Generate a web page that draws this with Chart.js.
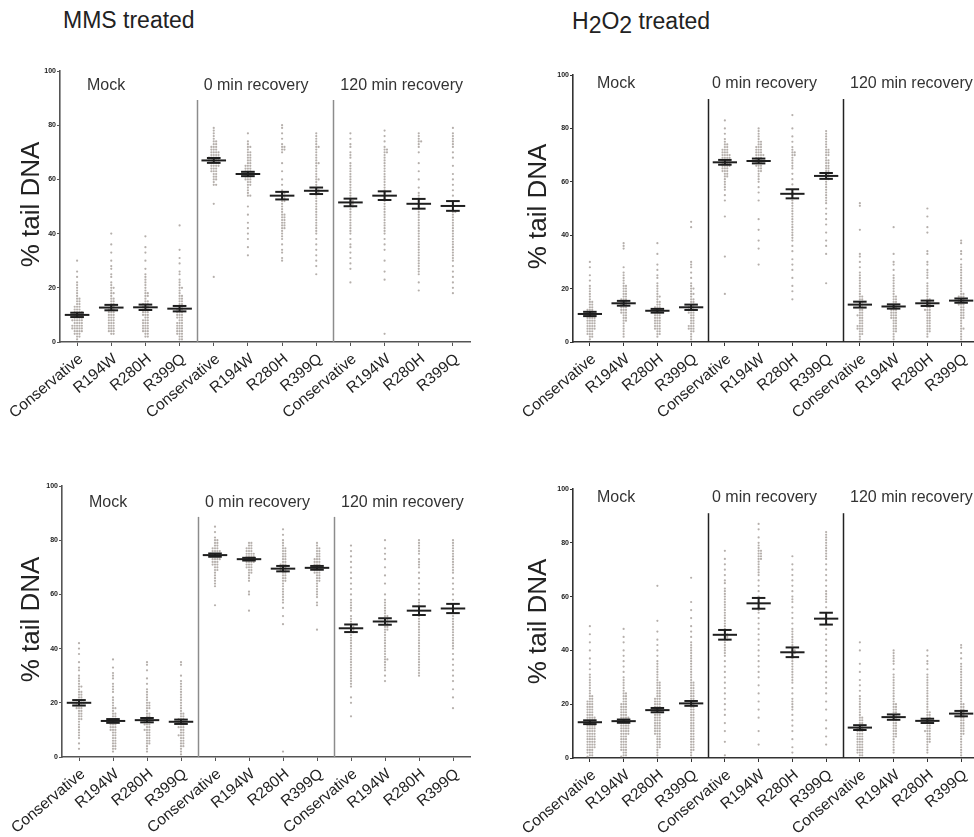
<!DOCTYPE html>
<html>
<head>
<meta charset="utf-8">
<script src="https://cdn.jsdelivr.net/npm/chart.js@4.4.1/dist/chart.umd.min.js"></script>
<style>
  body { margin: 0; background: #fff; width: 974px; height: 837px; overflow: hidden; position: relative;
         font-family: "Liberation Sans", Arial, sans-serif; }
  .title { position: absolute; font-size: 23px; line-height: 23px; color: #222; white-space: nowrap; }
  .title .lo { position: relative; top: 4px; }
  .panel { position: absolute; }
</style>
</head>
<body>
<div class="title" style="left:63px;top:9px">MMS treated</div>
<div class="title" style="left:572px;top:10px">H<span class="lo">2</span>O<span class="lo">2</span> treated</div>
<div class="panel" id="pa"><canvas id="ca"></canvas></div>
<div class="panel" id="pb"><canvas id="cb"></canvas></div>
<div class="panel" id="pc"><canvas id="cc"></canvas></div>
<div class="panel" id="pd"><canvas id="cd"></canvas></div>
<script>
// categories (same in every panel)
const variants = ["Conservative", "R194W", "R280H", "R399Q"];
const categories = [...variants, ...variants, ...variants];
const groupNames = ["Mock", "0 min recovery", "120 min recovery"];
const yTicks = [0, 20, 40, 60, 80, 100];

// MMS treated, upper panel: % tail DNA per cell, order = categories
const mmsTopValues = [
  [30,26,24,22,21,20,19,18,17,16,16,15,15,14,14,13,13,13,12,12,12,11,11,11,11,10,10,10,10,9,9,9,9,8,8,8,8,8,7,7,7,7,6,6,6,6,6,5,5,5,5,5,4,4,4,4,3,3,3,2,2,1],
  [40,36,33,30,28,27,25,24,22,21,20,20,19,18,18,17,16,16,15,15,14,14,13,13,12,12,12,11,11,11,10,10,10,9,9,9,8,8,8,7,7,7,6,6,6,5,5,5,4,4,4,3,3],
  [39,35,33,30,27,25,24,23,22,21,20,19,18,18,17,17,16,15,15,14,14,14,13,13,13,12,12,12,11,11,11,10,10,10,9,9,8,8,8,7,7,7,6,6,6,5,5,5,4,4,4,3,3,2,2],
  [43,34,31,29,26,25,23,22,21,20,20,19,18,17,17,16,16,15,15,14,14,13,13,12,12,12,11,11,11,10,10,10,9,9,9,8,8,7,7,7,6,6,6,5,5,5,4,4,4,3,3,3,2,2,1,1],
  [79,78,77,76,75,74,74,73,73,72,72,72,71,71,71,70,70,70,70,69,69,69,69,68,68,68,68,68,67,67,67,67,67,66,66,66,66,65,65,65,65,64,64,64,63,63,63,62,62,61,61,60,60,59,58,58,51,24],
  [77,74,73,72,72,71,70,70,69,69,68,68,67,67,66,66,65,65,65,64,64,64,63,63,63,62,62,62,62,61,61,61,60,60,60,59,59,58,58,57,56,55,54,54,50,47,44,42,40,38,35,32],
  [80,79,77,75,73,72,72,71,71,70,66,63,60,58,56,55,55,54,54,53,53,52,52,51,50,49,48,47,47,46,46,45,45,44,44,43,43,42,42,41,40,39,38,36,34,33,31,30],
  [77,76,75,74,73,72,72,71,70,69,68,67,66,66,65,64,63,62,61,60,60,59,58,57,56,56,55,55,54,53,52,51,50,49,48,47,46,45,44,43,42,41,40,38,36,34,32,30,28,25],
  [77,75,73,72,70,69,68,66,65,64,63,62,61,60,59,58,57,56,55,54,53,52,52,51,51,50,50,49,48,47,46,45,44,43,42,41,40,38,36,35,33,31,29,27,22],
  [78,76,74,72,71,71,70,70,69,68,67,66,65,64,63,62,61,60,59,58,57,56,55,54,53,52,51,50,49,48,47,46,45,44,43,42,41,40,38,36,34,30,26,23,3],
  [77,76,75,74,74,73,72,70,66,63,60,57,55,54,53,52,51,50,49,48,47,46,45,44,43,42,41,40,39,38,37,36,35,34,33,32,31,30,29,28,27,26,25,22,19],
  [79,77,76,75,74,73,72,70,68,65,62,60,58,56,54,52,51,50,49,48,48,47,46,45,44,43,42,41,40,39,38,37,36,35,34,33,32,31,30,28,26,24,22,20,18]
];
const mmsTopMean = [10, 12.7, 12.8, 12.3, 67, 62, 54, 55.8, 51.5, 54, 51, 50.2];
const mmsTopSem = [0.8, 1.0, 1.0, 1.0, 0.9, 0.8, 1.4, 1.2, 1.4, 1.6, 1.8, 1.8];

// H2O2 treated, upper panel
const h2o2TopValues = [
  [30,28,25,23,21,20,19,18,17,16,15,15,14,14,13,13,12,12,12,11,11,11,10,10,10,10,9,9,9,9,8,8,8,8,7,7,7,7,6,6,6,6,5,5,5,5,4,4,4,3,3,3,2,2,1],
  [37,36,35,28,26,25,24,23,22,21,21,20,20,19,19,18,18,17,17,16,16,16,15,15,15,14,14,14,13,13,13,12,12,12,11,11,11,10,10,9,9,8,8,7,6,5,4,3,2],
  [37,33,29,27,25,24,22,21,20,19,18,17,17,16,15,15,14,14,13,13,13,12,12,12,11,11,11,10,10,10,9,9,9,8,8,8,7,7,7,6,6,6,5,5,5,4,4,3,3,2],
  [45,43,30,29,28,26,24,22,21,20,20,19,18,18,17,16,16,15,15,14,14,13,13,13,12,12,12,11,11,11,10,10,9,9,8,8,7,7,6,6,6,5,5,5,4,4,3,2,1],
  [83,80,78,76,75,74,74,73,73,72,72,72,71,71,71,70,70,70,70,69,69,69,69,68,68,68,68,67,67,67,67,66,66,66,66,65,65,65,64,64,64,63,63,62,62,61,60,59,58,57,55,53,47,32,18],
  [80,79,78,77,76,75,75,74,74,73,73,73,72,72,72,71,71,71,70,70,70,70,69,69,69,68,68,68,67,67,67,66,66,66,65,65,64,64,63,62,61,60,58,56,53,46,42,38,35,29],
  [85,80,77,75,73,72,71,71,70,70,69,68,67,66,65,63,61,59,57,56,55,54,53,52,51,50,49,48,47,46,45,44,43,42,41,40,39,38,36,34,31,29,27,24,21,19,16],
  [79,78,77,76,75,74,73,72,72,71,71,70,70,69,68,68,67,67,66,66,65,65,64,64,63,63,62,62,61,61,60,59,58,57,56,55,54,53,52,50,48,46,44,41,38,36,33,22],
  [52,51,42,33,32,30,28,26,25,24,23,22,21,20,19,18,17,17,16,16,15,15,14,14,13,13,12,12,11,11,10,10,10,9,9,8,8,7,7,6,6,6,5,5,5,4,4,3,3,2,1],
  [43,33,30,29,27,25,24,23,22,21,20,19,18,17,17,16,16,15,15,14,14,13,13,12,12,12,11,11,11,10,10,10,9,9,9,8,8,7,7,6,6,5,5,4,4,3,2,1],
  [50,47,43,41,34,33,30,29,27,26,25,24,22,21,20,19,18,17,16,16,15,15,14,14,13,13,12,12,12,11,11,10,10,9,9,8,8,7,7,6,6,5,5,4,4,3,2],
  [38,37,34,33,31,29,28,27,26,25,24,23,22,21,20,19,18,18,17,17,17,16,16,16,15,15,15,14,14,14,13,13,12,12,11,11,10,10,9,9,8,7,6,5,5,4,3,2,1]
];
const h2o2TopMean = [10.5, 14.5, 11.7, 13, 67.3, 67.8, 55.5, 62.2, 14, 13.3, 14.5, 15.5];
const h2o2TopSem = [0.8, 0.9, 0.7, 1.0, 0.9, 0.9, 1.7, 1.1, 1.1, 0.8, 1.0, 0.8];

// MMS treated, lower panel
const mmsBottomValues = [
  [42,40,38,35,33,32,30,29,28,27,26,26,25,24,24,23,23,22,22,21,21,21,20,20,20,20,19,19,19,18,18,18,17,17,16,16,15,15,14,14,13,12,11,10,9,8,7,5,3],
  [36,33,31,30,29,27,26,25,24,22,21,20,19,18,18,17,16,16,15,15,14,14,14,13,13,13,12,12,12,11,11,11,10,10,10,9,9,8,8,7,7,6,6,5,5,4,4,3,3,2],
  [35,34,32,29,27,25,24,23,22,21,20,20,19,19,18,18,17,16,16,15,15,14,14,14,13,13,13,12,12,12,11,11,10,10,10,9,9,8,8,7,7,6,6,5,5,4,3,2],
  [35,34,30,28,27,26,25,24,23,22,21,20,19,18,17,16,16,15,15,14,14,14,13,13,13,12,12,11,11,11,10,10,9,9,8,8,8,7,7,6,6,5,5,4,4,3,2,1],
  [85,83,81,80,80,79,79,78,78,77,77,77,76,76,76,76,75,75,75,75,75,74,74,74,74,74,73,73,73,73,72,72,72,71,71,71,70,70,69,69,68,67,66,65,64,63,56],
  [79,79,78,78,77,77,77,76,76,76,75,75,75,75,74,74,74,74,73,73,73,73,73,72,72,72,72,71,71,71,70,70,70,69,69,68,68,67,66,65,61,60,54],
  [84,82,80,79,78,77,77,76,76,75,75,74,74,73,73,72,72,71,71,71,70,70,70,69,69,69,68,68,67,67,66,66,65,65,64,63,62,61,60,59,58,57,55,52,49,2],
  [79,78,77,77,76,76,75,75,74,74,73,73,73,72,72,72,71,71,71,70,70,70,69,69,69,68,68,68,67,67,66,66,65,65,64,63,62,61,60,59,57,56,47],
  [78,76,74,72,70,68,66,64,62,60,58,57,56,55,54,52,51,50,49,48,48,47,47,46,46,45,44,43,42,41,40,39,38,37,36,35,34,33,32,31,30,29,28,27,26,22,20,15],
  [80,77,75,73,70,67,64,60,58,57,56,55,54,53,52,52,51,51,50,50,49,49,48,48,47,47,46,45,44,43,42,41,40,39,38,37,36,36,35,34,33,32,30,28],
  [80,79,78,77,76,75,73,72,71,70,68,66,64,62,60,58,57,56,55,54,53,52,51,50,49,48,47,46,45,44,43,42,41,40,39,38,37,36,35,34,33,32,31,30],
  [80,79,78,77,76,75,74,73,72,71,70,69,68,66,64,62,60,58,56,55,54,53,52,51,50,49,48,47,46,45,44,43,42,41,40,38,36,34,32,30,28,25,22,18]
];
const mmsBottomMean = [20, 13.3, 13.6, 13, 74.5, 73, 69.5, 69.8, 47.5, 50, 54, 54.8];
const mmsBottomSem = [1.0, 0.7, 0.8, 0.8, 0.6, 0.5, 1.0, 0.7, 1.4, 1.2, 1.6, 1.7];

// H2O2 treated, lower panel
const h2o2BottomValues = [
  [49,46,43,40,37,35,33,31,30,29,28,27,26,25,24,23,23,22,22,21,21,21,20,20,20,19,19,19,18,18,18,17,17,17,16,16,16,15,15,15,15,14,14,14,14,13,13,13,13,12,12,12,12,11,11,11,11,10,10,10,10,9,9,9,9,8,8,8,8,7,7,7,7,6,6,6,6,5,5,5,5,4,4,4,4,3,3,3,2,2,2,1,1,0.5],
  [48,45,43,40,38,36,34,32,30,29,28,27,26,25,24,24,23,23,22,22,21,21,20,20,20,19,19,19,18,18,18,17,17,17,16,16,16,15,15,15,15,14,14,14,14,13,13,13,13,12,12,12,12,11,11,11,11,10,10,10,10,9,9,9,9,8,8,8,7,7,7,6,6,6,5,5,5,4,4,4,3,3,3,2,2,1,1,0.5],
  [64,51,47,44,42,40,38,36,35,34,33,32,31,30,29,28,28,27,27,26,26,25,25,24,24,23,23,22,22,22,21,21,21,20,20,20,19,19,19,18,18,18,17,17,17,16,16,16,15,15,15,14,14,14,13,13,13,12,12,12,11,11,11,10,10,10,9,9,9,8,8,7,7,6,6,5,5,4,4,3,2,1],
  [67,58,55,52,49,47,45,43,42,41,40,39,38,37,36,35,34,33,32,31,30,29,28,28,27,27,26,26,25,25,24,24,23,23,22,22,21,21,20,20,19,19,18,18,17,17,16,16,15,15,14,14,13,13,12,12,11,11,10,10,9,9,8,8,7,7,6,6,5,5,4,4,3,3,2,1],
  [77,74,72,70,68,66,65,63,62,61,60,59,58,57,56,55,54,53,52,51,50,49,48,47,46,46,45,45,44,44,43,42,41,40,39,38,36,34,32,30,28,26,24,22,20,18,16,13,10,6,1],
  [87,85,82,80,79,78,77,77,76,76,75,75,74,74,73,72,71,70,69,68,66,64,62,60,58,56,55,54,52,50,48,46,44,42,40,38,36,34,32,30,27,24,21,18,15,10,5],
  [75,72,70,68,66,64,62,60,59,58,56,54,52,50,48,47,46,45,44,43,42,41,40,40,39,39,38,37,36,35,34,33,32,31,30,29,28,26,24,22,21,20,19,18,16,14,12,10,7,4,2],
  [84,83,82,81,80,79,78,77,76,75,74,72,70,68,66,64,62,61,60,59,58,56,54,52,50,48,46,44,42,40,38,36,34,32,30,28,26,24,21,18,14,11,8,5],
  [43,40,35,32,29,27,25,23,22,21,20,19,18,17,16,15,15,14,14,13,13,12,12,11,11,11,10,10,10,9,9,9,8,8,8,7,7,7,6,6,6,5,5,5,4,4,4,3,3,3,2,2,2,1,1],
  [40,39,38,37,36,35,33,31,30,29,28,27,26,25,24,23,22,21,20,20,19,19,18,18,17,17,16,16,15,15,14,14,13,13,12,12,11,11,10,10,9,9,8,8,7,6,5,4,3,2],
  [40,38,36,35,33,31,30,29,28,27,26,25,24,23,22,21,20,19,18,17,17,16,16,15,15,14,14,13,13,12,12,11,11,10,10,10,9,9,8,8,7,7,6,6,5,4,3,2],
  [42,41,39,37,35,34,33,32,31,30,29,28,27,26,25,24,23,22,21,20,20,19,19,18,18,17,17,16,16,15,15,14,14,13,13,12,12,11,11,10,10,9,9,8,7,6,5,4,3,2,1]
];
const h2o2BottomMean = [13.3, 13.7, 17.8, 20.3, 45.8, 57.5, 39.3, 51.8, 11.3, 15.2, 13.8, 16.5];
const h2o2BottomSem = [0.7, 0.6, 0.8, 0.9, 1.8, 2.0, 1.8, 2.2, 0.9, 1.0, 0.8, 1.0];

const FONT = '"Liberation Sans", Arial, sans-serif';

const panels = [
  { id: "a", axisX: 60, right: 470, top: 71, bottom: 342, values: mmsTopValues, mean: mmsTopMean, sem: mmsTopSem,
    divTop: 89.3, labelY: 93, labelOff: [27, 7, 7], yTitleOff: 28, divColor: "#8c8c8c", axisColor: "#555" },
  { id: "b", axisX: 573, right: 978, top: 75, bottom: 342, values: h2o2TopValues, mean: h2o2TopMean, sem: h2o2TopSem,
    divTop: 91, labelY: 95.1, labelOff: [24, 4, 7], yTitleOff: 34, divColor: "#222", axisColor: "#333" },
  { id: "c", axisX: 62, right: 470, top: 486, bottom: 757, values: mmsBottomValues, mean: mmsBottomMean, sem: mmsBottomSem,
    divTop: 88.6, labelY: 92.3, labelOff: [27, 7, 7], yTitleOff: 30, divColor: "#8c8c8c", axisColor: "#555" },
  { id: "d", axisX: 573, right: 978, top: 489, bottom: 758, values: h2o2BottomValues, mean: h2o2BottomMean, sem: h2o2BottomSem,
    divTop: 91, labelY: 95.2, labelOff: [24, 4, 7], yTitleOff: 34, divColor: "#222", axisColor: "#333" }
];

// simple beeswarm: points with the same rounded value sit side by side
function swarm(values, cat) {
  const rows = {};
  return values.map((v) => {
    const key = Math.round(v);
    const n = rows[key] || 0;
    rows[key] = n + 1;
    const step = Math.ceil(n / 2) * (n % 2 ? 1 : -1);
    return { x: cat + step * 0.07, y: v };
  });
}

const overlay = {
  id: "overlay",
  afterDatasetsDraw(chart, args, opts) {
    const p = opts.panel;
    const { ctx, chartArea } = chart;
    const x = chart.scales.x, y = chart.scales.y;
    ctx.save();

    // group dividers
    ctx.strokeStyle = p.divColor;
    ctx.lineWidth = 1.5;
    [3.5, 7.5].forEach((v) => {
      const px = Math.round(x.getPixelForValue(v)) + 0.5;
      ctx.beginPath();
      ctx.moveTo(px, y.getPixelForValue(0));
      ctx.lineTo(px, y.getPixelForValue(p.divTop));
      ctx.stroke();
    });

    // mean ± SEM
    ctx.strokeStyle = "#1e1e1e";
    ctx.lineWidth = 2;
    p.mean.forEach((m, i) => {
      const s = p.sem[i];
      const ym = y.getPixelForValue(m), yh = y.getPixelForValue(m + s), yl = y.getPixelForValue(m - s);
      const seg = (a, b, yy) => {
        ctx.beginPath();
        ctx.moveTo(x.getPixelForValue(i + a), yy);
        ctx.lineTo(x.getPixelForValue(i + b), yy);
        ctx.stroke();
      };
      seg(-0.36, 0.36, ym);
      seg(-0.2, 0.2, yh);
      seg(-0.2, 0.2, yl);
      const cx = x.getPixelForValue(i);
      ctx.beginPath();
      ctx.moveTo(cx, yh);
      ctx.lineTo(cx, yl);
      ctx.stroke();
    });

    // group names
    ctx.fillStyle = "#333";
    ctx.font = "16px " + FONT;
    ctx.textAlign = "left";
    ctx.textBaseline = "alphabetic";
    groupNames.forEach((g, k) => {
      ctx.fillText(g, x.getPixelForValue([-0.5, 3.5, 7.5][k]) + p.labelOff[k], y.getPixelForValue(p.labelY));
    });

    // y axis title
    ctx.translate(chartArea.left - p.yTitleOff, (chartArea.top + chartArea.bottom) / 2 - 2);
    ctx.rotate(-Math.PI / 2);
    ctx.textAlign = "center";
    ctx.textBaseline = "middle";
    ctx.font = "26px " + FONT;
    ctx.fillStyle = "#222";
    ctx.fillText("% tail DNA", 0, 0);
    ctx.restore();
  }
};

function drawPanel(p) {
  const box = document.getElementById("p" + p.id);
  const w = p.right - p.axisX + 70;
  const h = p.bottom - p.top + 20 + 85;
  box.style.left = p.axisX - 60 + "px";
  box.style.top = p.top - 20 + "px";
  const canvas = document.getElementById("c" + p.id);
  canvas.width = w;
  canvas.height = h;
  canvas.style.width = w + "px";
  canvas.style.height = h + "px";

  const points = p.values.flatMap((vals, i) => swarm(vals, i));

  new Chart(canvas.getContext("2d"), {
    type: "scatter",
    data: {
      datasets: [{
        data: points,
        pointRadius: 1.1,
        pointHoverRadius: 1.1,
        borderWidth: 0,
        backgroundColor: "rgba(120,110,102,0.55)"
      }]
    },
    options: {
      responsive: false,
      animation: false,
      devicePixelRatio: 1,
      layout: { padding: { left: 20, top: 20, right: 10, bottom: 5 } },
      plugins: { legend: { display: false }, tooltip: { enabled: false }, overlay: { panel: p } },
      scales: {
        x: {
          type: "linear",
          min: -0.5,
          max: 11.5,
          afterBuildTicks: (scale) => { scale.ticks = categories.map((_, i) => ({ value: i })); },
          afterFit: (scale) => { scale.height = 80; },
          border: { display: true, color: p.axisColor, width: 1.6 },
          grid: { display: true, drawOnChartArea: false, drawTicks: true, tickLength: 4, color: p.axisColor },
          ticks: {
            autoSkip: false,
            minRotation: 40,
            maxRotation: 40,
            padding: 4,
            labelOffset: 4,
            color: "#222",
            font: { family: FONT, size: 15.5 },
            callback: (v) => categories[Math.round(v)]
          }
        },
        y: {
          min: 0,
          max: 100,
          afterBuildTicks: (scale) => { scale.ticks = yTicks.map((v) => ({ value: v })); },
          afterFit: (scale) => { scale.width = 40; },
          border: { display: true, color: p.axisColor, width: 1.6 },
          grid: { display: true, drawOnChartArea: false, drawTicks: true, tickLength: 3, color: p.axisColor },
          ticks: { padding: 1, color: "#222", font: { family: FONT, size: 7, weight: "bold" } }
        }
      }
    },
    plugins: [overlay]
  });
}

panels.forEach(drawPanel);
</script>
</body>
</html>
